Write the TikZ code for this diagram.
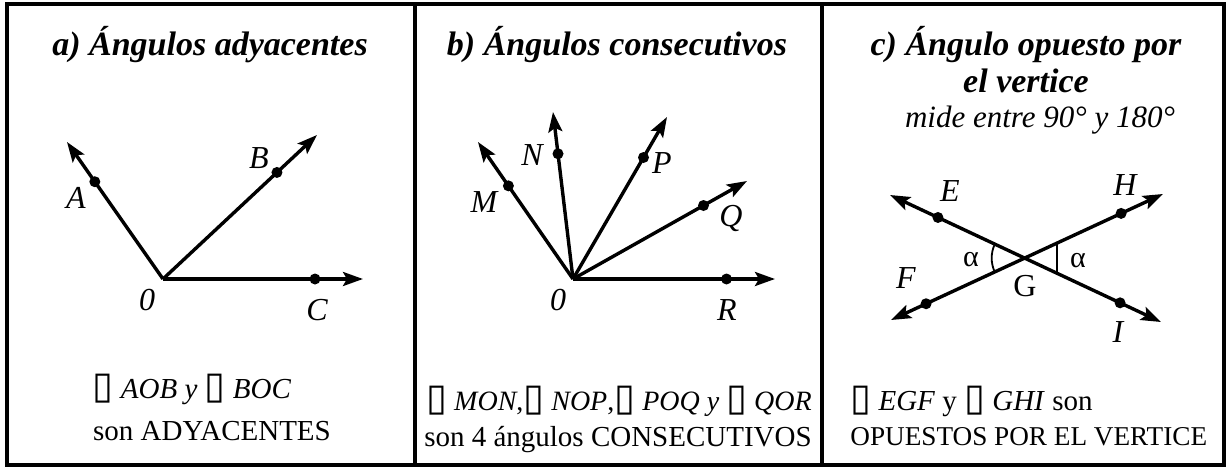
\documentclass[tikz,border=0pt]{standalone}
\usepackage{fontspec}
\setmainfont{Liberation Serif}
\newfontfamily\boxglyph{DejaVu Sans}
\usetikzlibrary{arrows.meta, calc}

\tikzset{
  ray-line/.style={line width=1.7pt, -{Stealth[length=10pt,width=7pt,inset=2pt]}},
  full-line/.style={line width=1.7pt, {Stealth[length=10pt,width=7pt,inset=2pt]}-{Stealth[length=10pt,width=7pt,inset=2pt]}},
  pt-dot/.style={circle, fill=black, inner sep=0pt, minimum size=5.5pt},
  pt-name/.style={font=\fontsize{16}{18}\selectfont\itshape, inner sep=0pt},
  panel-title/.style={font=\fontsize{17}{20}\selectfont\bfseries\itshape, inner sep=0pt, anchor=base},
  panel-note/.style={font=\fontsize{14.5}{17}\selectfont, inner sep=0pt, anchor=base},
  frame-line/.style={line width=1.6pt},
  angle-mark/.style={line width=0.9pt},
}
\newcommand{\angsign}{{\boxglyph\fontsize{19}{20}\selectfont\char"25AF}}

\begin{document}
\begin{tikzpicture}[x=0.5pt, y=0.5pt]
  \useasboundingbox (0,0) rectangle (1228,468);
  \draw[frame-line] (7,3) rectangle (1224,464);
  \draw[frame-line, line width=2.4pt] (7,464) -- (1224,464);
  \draw[frame-line] (415,3) -- (415,464);
  \draw[frame-line] (822,3) -- (822,464);

  % a) adjacent angles
  \node[panel-title] (title-a) at (210,413) {a) Ángulos adyacentes};
  \coordinate (O-a) at (163,189);
  \coordinate (A-tip) at (67,326);
  \coordinate (B-tip) at (317,333);
  \coordinate (C-tip) at (363,189);
  \draw[ray-line] (O-a) -- (A-tip);
  \draw[ray-line] (O-a) -- (B-tip);
  \draw[ray-line] (O-a) -- (C-tip);
  \node[pt-dot] (A) at ($(O-a)!0.71!(A-tip)$) {};
  \node[pt-dot] (B) at ($(O-a)!0.74!(B-tip)$) {};
  \node[pt-dot] (C) at ($(O-a)!0.76!(C-tip)$) {};
  \node[pt-name] (A-name) at (76,270) {A};
  \node[pt-name] (B-name) at (259,310) {B};
  \node[pt-name] (O-a-name) at (147,168) {0};
  \node[pt-name] (C-name) at (317,158) {C};
  \node[panel-note] (note-a1) at (192,70)
    {\angsign\ \textit{AOB y} \angsign\ \textit{BOC}};
  \node[panel-note] (note-a2) at (212,28) {son ADYACENTES};

  % b) consecutive angles
  \node[panel-title] (title-b) at (617,413) {b) Ángulos consecutivos};
  \coordinate (O-b) at (573,189);
  \coordinate (M-tip) at (478,326);
  \coordinate (N-tip) at (553,356);
  \coordinate (P-tip) at (667,351);
  \coordinate (Q-tip) at (747,287);
  \coordinate (R-tip) at (775,189);
  \foreach \ray in {M,N,P,Q,R}
    \draw[ray-line] (O-b) -- (\ray-tip);
  \node[pt-dot] (M) at ($(O-b)!0.68!(M-tip)$) {};
  \node[pt-dot] (N) at ($(O-b)!0.75!(N-tip)$) {};
  \node[pt-dot] (P) at ($(O-b)!0.75!(P-tip)$) {};
  \node[pt-dot] (Q) at ($(O-b)!0.75!(Q-tip)$) {};
  \node[pt-dot] (R) at ($(O-b)!0.76!(R-tip)$) {};
  \node[pt-name] (M-name) at (484,266) {M};
  \node[pt-name] (N-name) at (532,313) {N};
  \node[pt-name] (P-name) at (662,305) {P};
  \node[pt-name] (Q-name) at (731,250) {Q};
  \node[pt-name] (O-b-name) at (558,168) {0};
  \node[pt-name] (R-name) at (727,158) {R};
  \node[panel-note, font=\fontsize{14}{17}\selectfont] (note-b1) at (619,58)
    {\angsign\ \textit{MON},\angsign\ \textit{NOP},\angsign\ \textit{POQ y} \angsign\ \textit{QOR}};
  \node[panel-note] (note-b2) at (618,22) {son 4 ángulos CONSECUTIVOS};

  % c) vertical angles
  \node[panel-title] (title-c1) at (1026,413) {c) Ángulo opuesto por};
  \node[panel-title] (title-c2) at (1026,376) {el vertice};
  \node[panel-note, font=\fontsize{15.5}{18}\selectfont\itshape] (title-c3) at (1040,341)
    {mide entre 90° y 180°};
  \coordinate (E-tip) at (890,273);
  \coordinate (I-tip) at (1161,146);
  \coordinate (F-tip) at (891,148);
  \coordinate (H-tip) at (1163,274);
  \coordinate (G) at (intersection of E-tip--I-tip and F-tip--H-tip);
  \draw[full-line] (E-tip) -- (I-tip);
  \draw[full-line] (F-tip) -- (H-tip);
  \node[pt-dot] (E) at ($(E-tip)!0.177!(I-tip)$) {};
  \node[pt-dot] (I) at ($(E-tip)!0.849!(I-tip)$) {};
  \node[pt-dot] (F) at ($(F-tip)!0.129!(H-tip)$) {};
  \node[pt-dot] (H) at ($(F-tip)!0.846!(H-tip)$) {};
  \draw[angle-mark] ($(G)+(155:16.5pt)$) arc[start angle=155, end angle=205, radius=16.5pt];
  \draw[angle-mark] ($(G)+(32,14.9)$) -- ($(G)+(32,-14.9)$);
  \node[pt-name] (E-name) at (950,277) {E};
  \node[pt-name] (H-name) at (1125,283) {H};
  \node[pt-name] (F-name) at (906,190) {F};
  \node[pt-name, font=\fontsize{16}{18}\selectfont] (G-name) at (1025,182) {G};
  \node[pt-name] (I-name) at (1118,136) {I};
  \node[pt-name, font=\fontsize{15}{18}\selectfont] (alpha-l) at (971,208) {α};
  \node[pt-name, font=\fontsize{15}{18}\selectfont] (alpha-r) at (1078,207) {α};
  \node[panel-note, anchor=base west] (note-c1) at (850,58)
    {\angsign\ \textit{EGF} y \angsign\ \textit{GHI} son};
  \node[panel-note, anchor=base west, font=\fontsize{13.6}{17}\selectfont] (note-c2) at (850,23)
    {OPUESTOS POR EL VERTICE};
\end{tikzpicture}
\end{document}
